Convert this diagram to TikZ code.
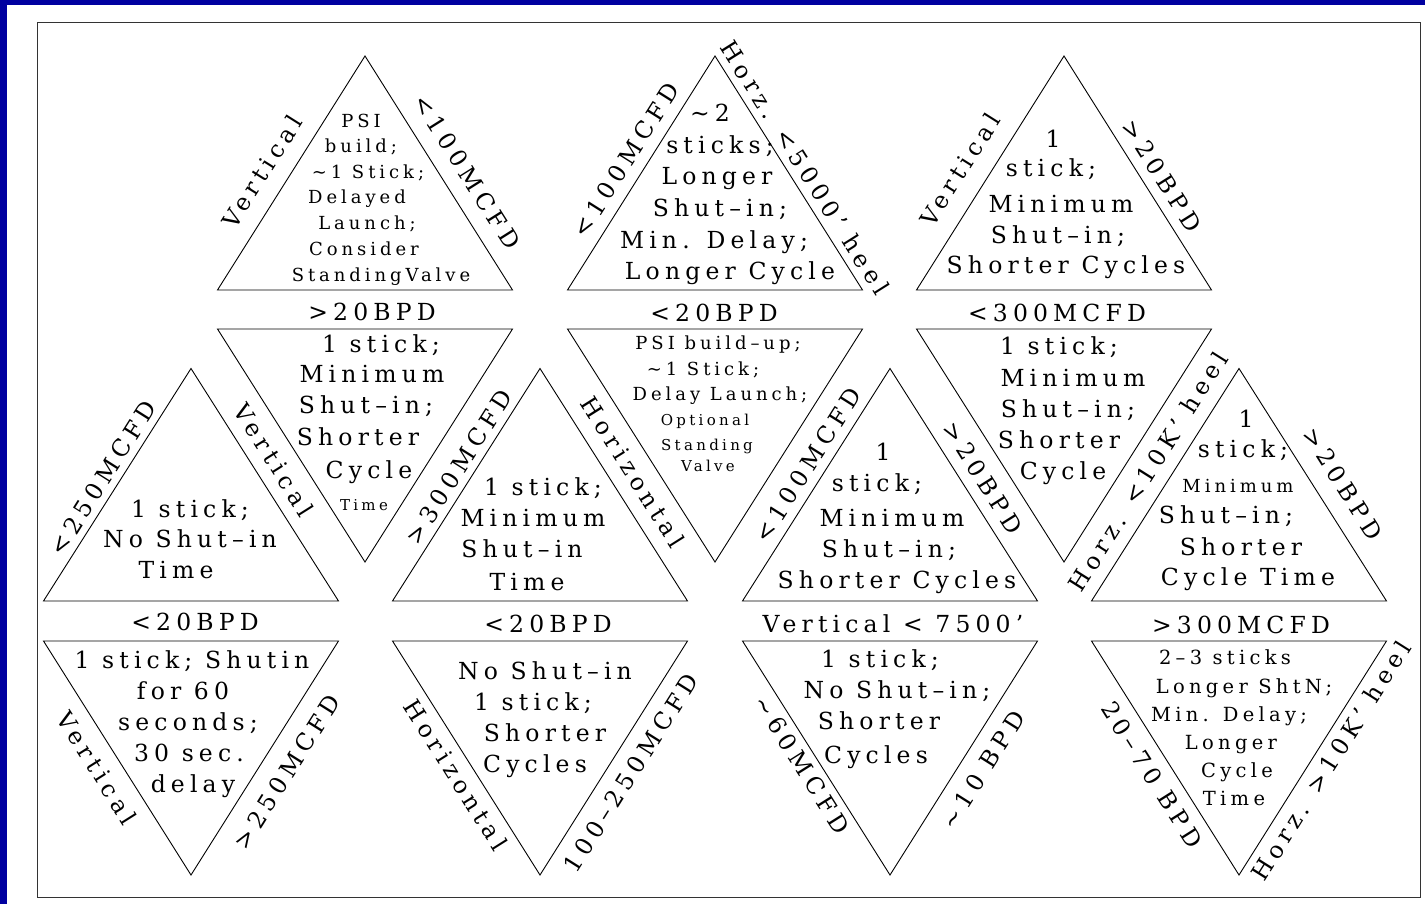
\documentclass[tikz,border=0pt]{standalone}
\usepackage{fontspec}
\newfontfamily\lmf{DejaVu Serif}[LetterSpace=22]
\definecolor{navyband}{RGB}{0,0,160}
\newcommand{\tld}{\textasciitilde}
\tikzset{
  tri/.style={draw=black, line width=0.9pt, line join=miter},
  big/.style={font=\lmf\fontsize{23.5}{29}\selectfont, inner sep=0pt, text height=17pt, text depth=0pt},
  mdl/.style={font=\lmf\fontsize{19.5}{25}\selectfont, inner sep=0pt, text height=14.2pt, text depth=0pt},
  med/.style={font=\lmf\fontsize{18}{23}\selectfont, inner sep=0pt, text height=13.1pt, text depth=0pt},
  sml/.style={font=\lmf\fontsize{15}{19}\selectfont, inner sep=0pt, text height=10.9pt, text depth=0pt},
  up/.style={rotate=57.8},
  dn/.style={rotate=-57.8},
}
\newcommand{\uptri}[3]{\draw[tri] (#1,#2) -- ({#1+147.5},#3) -- ({#1-147.5},#3) -- cycle;}
\newcommand{\dntri}[3]{\draw[tri] ({#1-147.5},#2) -- ({#1+147.5},#2) -- (#1,#3) -- cycle;}
\begin{document}
\begin{tikzpicture}[x=1pt,y=-1pt]
\useasboundingbox (0,0) rectangle (1425,904);
\fill[navyband] (0,0) rectangle (1425,904);
\fill[white] (7,5) rectangle (1425,904);
\draw[line width=0.9pt, draw=black!80] (37,22) rectangle (1420,897);

% row 1 (pointing up)
\uptri{365}{56}{290}
\uptri{715}{56}{290}
\uptri{1064}{56}{290}
% row 2 (pointing down)
\dntri{365}{329}{562}
\dntri{715}{329}{562}
\dntri{1064}{329}{562}
% row 3 (pointing up)
\uptri{191}{368.5}{601}
\uptri{540}{368.5}{601}
\uptri{890}{368.5}{601}
\uptri{1239}{368.5}{601}
% row 4 (pointing down)
\dntri{191}{641}{875}
\dntri{540}{641}{875}
\dntri{890}{641}{875}
\dntri{1239}{641}{875}

% ---------- T1 ----------
\node[med] (t1a) at (361,121) {PSI};
\node[med] (t1b) at (361,146) {build;};
\node[med] (t1c) at (368,172) {\tld1 Stick;};
\node[med] (t1d) at (357,197) {Delayed};
\node[med] (t1e) at (367,223) {Launch;};
\node[med] (t1f) at (364,249) {Consider};
\node[med] (t1g) at (381,275) {StandingValve};
\node[big,up] (lt1a) at (262,172) {Vertical};
\node[big,dn] (lt1b) at (467,172) {<100MCFD};
% ---------- T2 ----------
\node[big] (t2a) at (710,113) {\tld2};
\node[big] (t2b) at (720,145) {sticks;};
\node[big] (t2c) at (717,176) {Longer};
\node[big] (t2d) at (720,208) {Shut–in;};
\node[big] (t2e) at (714,240) {Min. Delay;};
\node[big] (t2f) at (730,271) {Longer Cycle};
\node[big,up] (lt2a) at (626,160) {<100MCFD};
\node[big,dn] (lt2b) at (805,168) {Horz. <5000’ heel};
% ---------- T3 ----------
\node[big] (t3a) at (1053,139) {1};
\node[big] (t3b) at (1051,168) {stick;};
\node[big] (t3c) at (1061,204) {Minimum};
\node[big] (t3d) at (1058,235) {Shut–in;};
\node[big] (t3e) at (1066,265) {Shorter Cycles};
\node[big,up] (lt3a) at (960,170) {Vertical};
\node[big,dn] (lt3b) at (1162,176) {>20BPD};
% base labels row 1
\node[big] (bt1) at (372,312) {>20BPD};
\node[big] (bt2) at (714,313) {<20BPD};
\node[big] (bt3) at (1057,313) {<300MCFD};

% ---------- D1 ----------
\node[big] (d1a) at (381,344) {1 stick;};
\node[big] (d1b) at (372,374) {Minimum};
\node[big] (d1c) at (366,405) {Shut–in;};
\node[big] (d1d) at (358,437) {Shorter};
\node[big] (d1e) at (369,470) {Cycle};
\node[sml] (d1f) at (364,505) {Time};
% ---------- D2 ----------
\node[med] (d2a) at (718,343) {PSI build–up;};
\node[med] (d2b) at (703,369) {\tld1 Stick;};
\node[med] (d2c) at (720,394) {Delay Launch;};
\node[sml] (d2d) at (705,420) {Optional};
\node[sml] (d2e) at (707,445) {Standing};
\node[sml] (d2f) at (708,466) {Valve};
% ---------- D3 ----------
\node[big] (d3a) at (1059,346) {1 stick;};
\node[big] (d3b) at (1073,378) {Minimum};
\node[big] (d3c) at (1068,409) {Shut–in;};
\node[big] (d3d) at (1059,440) {Shorter};
\node[big] (d3e) at (1063,471) {Cycle};

% ---------- U1 ----------
\node[big] (u1a) at (190,509) {1 stick;};
\node[big] (u1b) at (190,539) {No Shut–in};
\node[big] (u1c) at (176,570) {Time};
\node[big,up] (lu1a) at (103,478) {<250MCFD};
\node[big,dn] (lu1b) at (274,460) {Vertical};
% ---------- U2 ----------
\node[big] (u2a) at (543,487) {1 stick;};
\node[big] (u2b) at (533,518) {Minimum};
\node[big] (u2c) at (522,549) {Shut–in};
\node[big] (u2d) at (527,582) {Time};
\node[big,up] (lu2a) at (459,467) {>300MCFD};
\node[big,dn] (lu2b) at (633,472) {Horizontal};
% ---------- U3 ----------
\node[big] (u3a) at (883,452) {1};
\node[big] (u3b) at (877,483) {stick;};
\node[big] (u3c) at (892,518) {Minimum};
\node[big] (u3d) at (889,549) {Shut–in;};
\node[big] (u3e) at (897,580) {Shorter Cycles};
\node[big,up] (lu3a) at (808,465) {<100MCFD};
\node[big,dn] (lu3b) at (983,478) {>20BPD};
% ---------- U4 ----------
\node[big] (u4a) at (1246,419) {1};
\node[big] (u4b) at (1243,449) {stick;};
\node[med] (u4c) at (1238,486) {Minimum};
\node[big] (u4d) at (1226,515) {Shut–in;};
\node[big] (u4e) at (1241,547) {Shorter};
\node[big] (u4f) at (1248,577) {Cycle Time};
\node[big,up] (lu4a) at (1148,472) {Horz. <10K’ heel};
\node[big,dn] (lu4b) at (1343,484) {>20BPD};
% base labels row 3
\node[big] (bu1) at (195,622) {<20BPD};
\node[big] (bu2) at (548,624) {<20BPD};
\node[big] (bu3) at (893,624) {Vertical < 7500’};
\node[big] (bu4) at (1241,625) {>300MCFD};

% ---------- L1 ----------
\node[big] (l1a) at (192,660) {1 stick; Shutin};
\node[big] (l1b) at (183,691) {for 60};
\node[big] (l1c) at (188,722) {seconds;};
\node[big] (l1d) at (189,753) {30 sec.};
\node[big] (l1e) at (193,784) {delay};
\node[big,dn] (ll1a) at (97,768) {Vertical};
\node[big,up] (ll1b) at (287,772) {>250MCFD};
% ---------- L2 ----------
\node[big] (l2a) at (545,671) {No Shut–in};
\node[big] (l2b) at (533,702) {1 stick;};
\node[big] (l2c) at (545,733) {Shorter};
\node[big] (l2d) at (535,764) {Cycles};
\node[big,dn] (ll2a) at (456,775) {Horizontal};
\node[big,up] (ll2b) at (631,773) {100–250MCFD};
% ---------- L3 ----------
\node[big] (l3a) at (880,659) {1 stick;};
\node[big] (l3b) at (897,690) {No Shut–in;};
\node[big] (l3c) at (879,721) {Shorter};
\node[big] (l3d) at (876,755) {Cycles};
\node[big,dn] (ll3a) at (802,765) {\tld60MCFD};
\node[big,up] (ll3b) at (983,770) {\tld10 BPD};
% ---------- L4 ----------
\node[mdl] (l4a) at (1225,657) {2–3 sticks};
\node[mdl] (l4b) at (1244,686) {Longer ShtN;};
\node[mdl] (l4c) at (1229,714) {Min. Delay;};
\node[mdl] (l4d) at (1231,742) {Longer};
\node[mdl] (l4e) at (1237,770) {Cycle};
\node[mdl] (l4f) at (1234,798) {Time};
\node[big,dn] (ll4a) at (1152,775) {20–70 BPD};
\node[big,up] (ll4b) at (1331,761) {Horz. >10K’ heel};
\end{tikzpicture}
\end{document}
